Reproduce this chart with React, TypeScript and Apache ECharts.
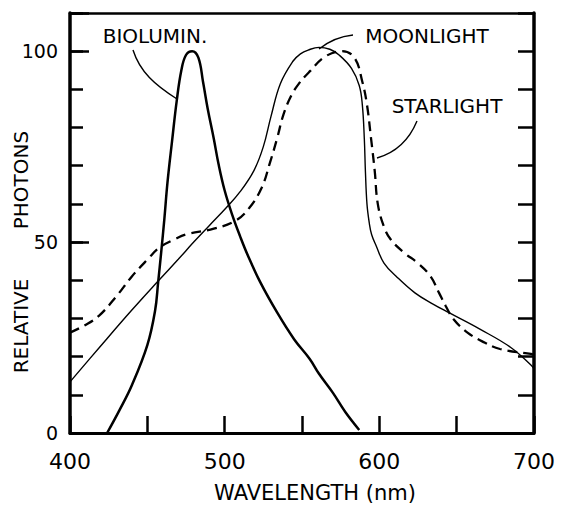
import React, { useEffect, useRef } from 'react';
import * as echarts from 'echarts';

// Bioluminescence spectrum
const biolumWl = [424, 432, 440, 450, 455, 457, 459, 461, 463, 466, 469, 472, 475, 479, 483, 486, 489, 493, 496, 500, 505, 510, 515, 523, 534, 545, 555, 561, 570, 578, 587];
const biolumVal = [0, 6, 12.5, 23, 32, 39.5, 47.5, 56, 65.5, 76.5, 87, 95, 99, 100, 98.3, 92, 85, 77, 70.5, 63.5, 57, 51.5, 46.5, 39.5, 31.5, 24.5, 19.4, 15.5, 10.5, 5.5, 0.8];

// Moonlight spectrum
const moonWl = [400, 419, 440, 457, 470, 480, 490, 501, 510, 519, 525, 530, 536, 544, 549, 554, 561, 568, 574, 582, 587, 589, 590.3, 591, 592, 593.5, 595, 598, 603, 611, 623, 635, 645, 665, 685, 698, 700];
const moonVal = [13.4, 22.4, 32.2, 39.8, 45.5, 50, 54.3, 59, 63.2, 68.8, 75, 83, 91.5, 97.3, 99.3, 100.3, 101, 100.5, 99, 95.5, 91, 86, 77, 68.5, 60, 55, 52, 49, 44.5, 41, 36.7, 33.7, 31.5, 27.2, 22.4, 17.8, 16.8];

// Starlight spectrum
const starWl = [400, 410, 419, 430, 440, 450, 458, 468, 475, 493, 507, 516, 524, 529, 534, 538, 543, 548, 555, 565, 576, 584, 589, 592, 594.6, 597, 599, 603, 607.5, 617, 624, 633, 638.6, 643, 648, 657, 668, 678, 698, 700];
const starVal = [26.3, 28.3, 30.8, 35.8, 41, 45.4, 48.6, 50.8, 52, 53.5, 55.6, 59, 64.3, 70.4, 77.3, 83.4, 88.3, 91.5, 94.7, 98.6, 100, 98.2, 92, 86, 77.3, 68.7, 60, 54, 50.6, 46.9, 44.8, 41.1, 36.7, 33.2, 29.8, 26.3, 23.7, 22, 20.7, 20.5];

const xTickLabels = [400, 500, 600, 700];
const yTickLabels = [0, 50, 100];

export default function App() {
  const ref = useRef<HTMLDivElement>(null);
  useEffect(() => {
    const chart = echarts.init(ref.current!, null, { renderer: 'svg' });
    const font = 'DejaVu Sans';
    const pair = (xs: number[], ys: number[]) => xs.map((x, i) => [x, ys[i]]);
    const black = '#000';
    const txt = (text: string, x: number, y: number, size: number, rotation = 0) => ({
      type: 'text',
      x,
      y,
      rotation,
      style: {
        text,
        fill: black,
        font: `${size}px "${font}"`,
        align: 'center',
        verticalAlign: 'middle',
        textAlign: 'center',
        textVerticalAlign: 'middle',
      },
    });
    chart.setOption({
      animation: false,
      backgroundColor: '#fff',
      grid: { left: 70, right: 28, top: 13, bottom: 71, containLabel: false },
      xAxis: [
        {
          type: 'value',
          min: 400,
          max: 700,
          interval: 50,
          position: 'bottom',
          axisLine: { onZero: false, lineStyle: { color: black, width: 3 } },
          axisTick: { inside: true, length: 17, lineStyle: { color: black, width: 2.5 } },
          axisLabel: {
            formatter: (v: number) => (xTickLabels.includes(v) ? String(v) : ''),
            color: black,
            fontSize: 22,
            fontFamily: font,
            margin: 17,
          },
          splitLine: { show: false },
          name: 'WAVELENGTH (nm)',
          nameLocation: 'middle',
          nameGap: 49,
          nameTextStyle: { color: black, fontSize: 21, fontFamily: font, padding: [0, 0, 0, 26] },
        },
        {
          type: 'value',
          min: 400,
          max: 700,
          position: 'top',
          axisLine: { onZero: false, lineStyle: { color: black, width: 2.5 } },
          axisTick: { show: false },
          axisLabel: { show: false },
          splitLine: { show: false },
        },
      ],
      yAxis: [
        {
          type: 'value',
          min: 0,
          max: 110,
          interval: 10,
          position: 'left',
          axisLine: { onZero: false, lineStyle: { color: black, width: 3.5 } },
          axisTick: { inside: true, length: 13, lineStyle: { color: black, width: 2.5 } },
          axisLabel: { show: false },
          splitLine: { show: false },
        },
        {
          type: 'value',
          min: 0,
          max: 110,
          interval: 50,
          position: 'left',
          axisLine: { show: false, onZero: false },
          axisTick: { inside: true, length: 19, lineStyle: { color: black, width: 2.5 } },
          axisLabel: {
            formatter: (v: number) => (yTickLabels.includes(v) ? String(v) : ''),
            color: black,
            fontSize: 19,
            fontFamily: font,
            margin: 12,
          },
          splitLine: { show: false },
        },
        {
          type: 'value',
          min: 0,
          max: 110,
          interval: 10,
          position: 'right',
          axisLine: { onZero: false, lineStyle: { color: black, width: 3.5 } },
          axisTick: { inside: true, length: 16, lineStyle: { color: black, width: 2.5 } },
          axisLabel: { show: false },
          splitLine: { show: false },
        },
      ],
      series: [
        {
          name: 'BIOLUMIN.',
          type: 'line',
          data: pair(biolumWl, biolumVal),
          showSymbol: false,
          smooth: 0.4,
          lineStyle: { color: black, width: 2.5 },
        },
        {
          name: 'MOONLIGHT',
          type: 'line',
          data: pair(moonWl, moonVal),
          showSymbol: false,
          smooth: 0.4,
          lineStyle: { color: black, width: 1.4 },
        },
        {
          name: 'STARLIGHT',
          type: 'line',
          data: pair(starWl, starVal),
          showSymbol: false,
          smooth: 0.4,
          lineStyle: { color: black, width: 2.3, type: [10, 6] },
        },
      ],
      graphic: [
        txt('BIOLUMIN.', 155, 36, 20),
        txt('MOONLIGHT', 427, 36, 20),
        txt('STARLIGHT', 447, 106, 20),
        txt('RELATIVE', 21, 326, 20, Math.PI / 2),
        txt('PHOTONS', 21, 180, 20, Math.PI / 2),
        {
          type: 'bezierCurve',
          shape: { x1: 133, y1: 50, x2: 177, y2: 99, cpx1: 140, cpy1: 72, cpx2: 155, cpy2: 85 },
          style: { stroke: black, lineWidth: 1.4, fill: null },
        },
        {
          type: 'bezierCurve',
          shape: { x1: 353, y1: 35, x2: 319, y2: 49, cpx1: 334, cpy1: 37 },
          style: { stroke: black, lineWidth: 1.4, fill: null },
        },
        {
          type: 'bezierCurve',
          shape: { x1: 417, y1: 121, x2: 377, y2: 158, cpx1: 405, cpy1: 150 },
          style: { stroke: black, lineWidth: 1.4, fill: null },
        },
      ],
    });
    return () => chart.dispose();
  }, []);
  return (
    <div
      ref={ref}
      style={{ position: 'fixed', left: 0, top: 0, width: 562, height: 508, background: '#fff' }}
    />
  );
}
